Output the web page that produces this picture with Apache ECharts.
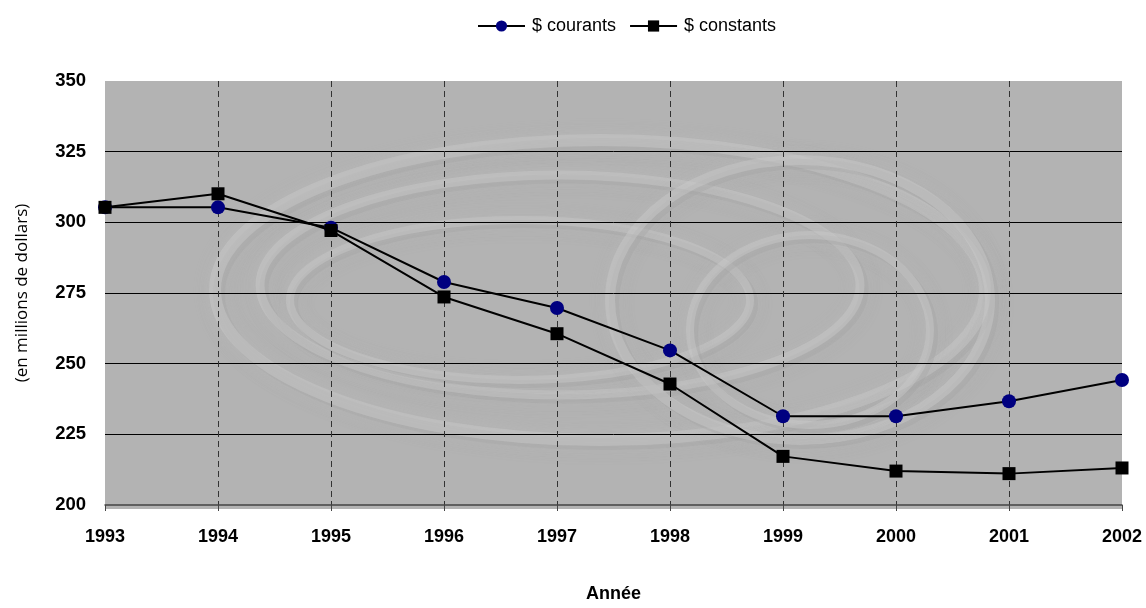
<!DOCTYPE html>
<html>
<head>
<meta charset="utf-8">
<script src="https://cdn.jsdelivr.net/npm/echarts@6/dist/echarts.min.js"></script>
<style>
  html, body { margin: 0; padding: 0; background: #ffffff; }
  #chart { width: 1146px; height: 608px; }
</style>
</head>
<body>
<div id="chart"></div>
<script>
// Années et valeurs (en millions de dollars)
const years = ['1993', '1994', '1995', '1996', '1997', '1998', '1999', '2000', '2001', '2002'];
const courants = [305.3, 305.3, 298.1, 278.9, 269.7, 254.7, 231.4, 231.4, 236.7, 244.2];
const constants = [305.3, 310.1, 297.1, 273.6, 260.6, 242.8, 217.2, 212.0, 211.1, 213.1];
const yTicks = { min: 200, max: 350, step: 25 };

const FONT = '"Liberation Sans", Arial, sans-serif';
const PLOT = { left: 105, top: 81, right: 24, bottom: 99 };
const W = 1146, H = 608;
const plotW = W - PLOT.left - PLOT.right;
const plotH = H - PLOT.top - PLOT.bottom;

const chart = echarts.init(document.getElementById('chart'), null, { renderer: 'canvas' });

// Soft embossed watermark rings in the plot background
function ring(cx, cy, rx, ry, w) {
  return [
    { type: 'ellipse', shape: { cx: cx + 4, cy: cy + 4, rx, ry },
      style: { fill: 'none', stroke: 'rgba(160,160,160,0.35)', lineWidth: w, shadowBlur: 16, shadowColor: 'rgba(160,160,160,0.5)' } },
    { type: 'ellipse', shape: { cx, cy, rx, ry },
      style: { fill: 'none', stroke: 'rgba(205,205,205,0.4)', lineWidth: w, shadowBlur: 16, shadowColor: 'rgba(205,205,205,0.6)' } }
  ];
}
const watermark = [].concat(
  ring(600, 290, 385, 150, 12),
  ring(560, 285, 300, 110, 9),
  ring(520, 300, 230, 80, 8),
  ring(800, 300, 190, 140, 10),
  ring(810, 330, 120, 95, 8)
);

chart.setOption({
  animation: false,
  backgroundColor: '#ffffff',
  textStyle: { fontFamily: FONT },
  graphic: [
    {
      type: 'group',
      silent: true,
      z: -10,
      clipPath: { type: 'rect', shape: { x: PLOT.left, y: PLOT.top, width: plotW, height: plotH } },
      children: [
        { type: 'rect', shape: { x: PLOT.left, y: PLOT.top, width: plotW, height: plotH },
          style: { fill: '#b3b3b3' } }
      ].concat(watermark)
    }
  ],
  legend: {
    top: 12,
    left: 472,
    itemWidth: 47,
    itemHeight: 14,
    itemGap: 13,
    textStyle: { fontFamily: FONT, fontSize: 18, color: '#000', padding: [0, 0, 0, 2] },
    data: ['$ courants', '$ constants']
  },
  grid: {
    left: PLOT.left, right: PLOT.right, top: PLOT.top, bottom: PLOT.bottom,
    show: false,
    containLabel: false
  },
  xAxis: {
    type: 'category',
    data: years,
    boundaryGap: false,
    name: 'Année',
    nameLocation: 'middle',
    nameGap: 80,
    nameTextStyle: { fontFamily: FONT, fontSize: 18, fontWeight: 'bold', color: '#000' },
    axisLine: { show: true, lineStyle: { color: '#444', width: 1.5 } },
    axisTick: { show: true, alignWithLabel: true, length: 6, lineStyle: { color: '#444' } },
    axisLabel: { fontFamily: FONT, fontSize: 18, fontWeight: 'bold', color: '#000', margin: 23 },
    splitLine: { show: true, showMinLine: false, showMaxLine: false, lineStyle: { color: '#333', type: [6, 4], width: 1 } }
  },
  yAxis: {
    type: 'value',
    min: yTicks.min,
    max: yTicks.max,
    interval: yTicks.step,
    name: '(en millions de dollars)',
    nameLocation: 'middle',
    nameGap: 74,
    nameRotate: 90,
    nameTextStyle: { fontFamily: '"Open Sans", sans-serif', fontSize: 17, color: '#000' },
    axisLine: { show: false },
    axisTick: { show: false },
    axisLabel: { fontFamily: FONT, fontSize: 18.5, fontWeight: 'bold', color: '#000', margin: 19 },
    splitLine: { show: true, showMinLine: false, showMaxLine: false, lineStyle: { color: '#000', width: 1 } }
  },
  series: [
    {
      name: '$ courants',
      type: 'line',
      data: courants,
      symbol: 'circle',
      symbolSize: 14,
      itemStyle: { color: '#000080' },
      lineStyle: { color: '#000', width: 2 },
      z: 2
    },
    {
      name: '$ constants',
      type: 'line',
      data: constants,
      symbol: 'rect',
      symbolSize: 13,
      itemStyle: { color: '#000' },
      lineStyle: { color: '#000', width: 2 },
      z: 3
    }
  ]
});
</script>
</body>
</html>
